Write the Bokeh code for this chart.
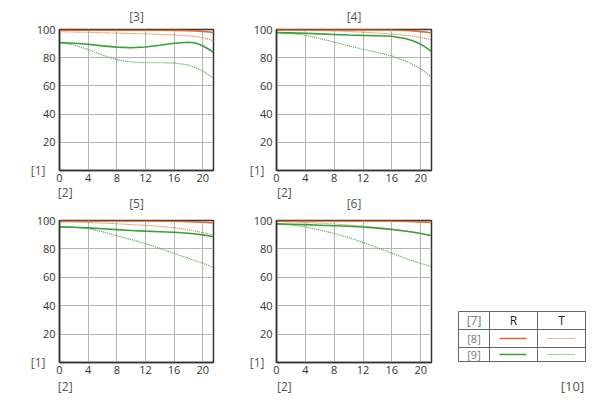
from bokeh.plotting import figure
from bokeh.models import Range1d, FixedTicker, LinearAxis, Title
from bokeh.layouts import column, row
from bokeh.embed import file_html
from bokeh.resources import INLINE
from bokeh.core.properties import value

# ---- data ----
X = [0, 2, 4, 6, 8, 10, 12, 14, 16, 18, 19, 20, 21, 21.5]

p1_r_sag = [99.5, 99.5, 99.5, 99.5, 99.5, 99.5, 99.5, 99.5, 99.4, 99.2, 99.0, 98.7, 98.2, 97.7]
p1_r_tan = [98.4, 98.2, 98.0, 97.7, 97.4, 97.1, 96.9, 96.6, 96.2, 95.5, 95.0, 94.2, 92.8, 91.8]
p1_g_sag = [90.7, 90.2, 89.5, 88.4, 87.5, 87.1, 87.6, 88.8, 90.3, 91.0, 90.4, 88.5, 85.5, 83.7]
p1_g_tan = [90.7, 89.0, 85.8, 81.8, 78.6, 77.0, 76.4, 76.4, 76.3, 74.8, 73.0, 70.5, 67.2, 65.5]

p2_r_sag = [99.7, 99.7, 99.7, 99.7, 99.7, 99.7, 99.7, 99.7, 99.6, 99.3, 99.0, 98.5, 98.0, 97.8]
p2_r_tan = [99.6, 99.6, 99.5, 99.3, 99.0, 98.6, 98.1, 97.5, 96.8, 95.8, 95.2, 94.4, 93.3, 92.7]
p2_g_sag = [97.8, 97.6, 97.3, 96.9, 96.5, 96.1, 95.8, 95.6, 95.2, 93.4, 91.8, 89.6, 86.3, 84.3]
p2_g_tan = [97.8, 97.1, 96.0, 93.5, 91.0, 88.4, 86.0, 83.7, 81.2, 77.5, 75.0, 72.2, 68.3, 66.4]

p3_r_sag = [99.6, 99.6, 99.6, 99.6, 99.6, 99.6, 99.6, 99.6, 99.5, 99.2, 99.0, 98.8, 98.5, 98.4]
p3_r_tan = [99.0, 98.9, 98.6, 98.2, 97.7, 97.1, 96.5, 95.8, 94.9, 93.5, 92.6, 91.5, 90.3, 89.6]
p3_g_sag = [95.5, 95.2, 94.8, 94.2, 93.6, 93.0, 92.5, 92.1, 91.7, 91.0, 90.5, 89.9, 89.1, 88.6]
p3_g_tan = [95.5, 95.2, 94.4, 92.0, 89.2, 86.6, 83.8, 80.5, 76.8, 73.4, 71.6, 69.8, 67.9, 67.1]

p4_r_sag = [99.7, 99.7, 99.7, 99.7, 99.7, 99.7, 99.7, 99.7, 99.6, 99.4, 99.2, 99.0, 98.8, 98.6]
p4_r_tan = [99.2, 99.0, 98.6, 98.1, 97.5, 96.8, 96.0, 95.1, 94.0, 92.6, 91.8, 90.9, 89.9, 89.4]
p4_g_sag = [97.6, 97.4, 97.1, 96.7, 96.3, 95.9, 95.4, 94.6, 93.7, 92.4, 91.7, 90.9, 89.8, 89.2]
p4_g_tan = [97.6, 96.9, 95.5, 93.3, 90.9, 88.0, 84.6, 80.8, 77.0, 73.2, 71.4, 69.8, 68.2, 67.6]

x_ticks = [0, 4, 8, 12, 16, 20]
y_ticks = [20, 40, 60, 80, 100]
panel_titles = ["[3]", "[4]", "[5]", "[6]"]
y_label = "[1]"
x_label = "[2]"
legend_head = ["[7]", "R", "T"]
legend_rows = ["[8]", "[9]"]
corner_label = "[10]"

RED = "#e2692a"
GREEN = "#35a235"
FONT = "Open Sans"
LABEL_COLOR = "#555555"
XMAX = 21.5
YMAX = 100


def style_axis(ax, size, color, standoff):
    ax.axis_line_color = None
    ax.major_tick_line_color = None
    ax.minor_tick_line_color = None
    ax.major_tick_out = 0
    ax.major_tick_in = 0
    ax.major_label_text_font = FONT
    ax.major_label_text_font_size = size
    ax.major_label_text_color = color
    ax.major_label_text_line_height = 1.0
    ax.major_label_standoff = standoff


def text_axis(p, side, pos, text, size, standoff):
    ax = LinearAxis(ticker=FixedTicker(ticks=[pos]),
                    major_label_overrides={pos: text})
    style_axis(ax, size, LABEL_COLOR, standoff)
    p.add_layout(ax, side)


def panel(width, height, bl, br, bt, bb, series, top_title, y1_standoff,
          x2_standoff, x2_shift, below_title=None):
    p = figure(width=width, height=height, output_backend="svg",
               toolbar_location=None, x_range=Range1d(0, XMAX),
               y_range=Range1d(0, YMAX), min_border_left=bl,
               min_border_right=br, min_border_top=bt, min_border_bottom=bb)
    p.outline_line_color = "#333333"
    p.outline_line_width = 1.5
    xa, ya = p.xaxis[0], p.yaxis[0]
    style_axis(xa, "11px", "#333333", 3)
    style_axis(ya, "11px", "#333333", 4)
    for ax in (xa, ya):
        ax.axis_line_color = "#333333"
        ax.axis_line_width = 1.5
    xa.ticker = FixedTicker(ticks=x_ticks)
    ya.ticker = FixedTicker(ticks=y_ticks)
    p.xgrid[0].ticker = FixedTicker(ticks=x_ticks)
    p.ygrid[0].ticker = FixedTicker(ticks=y_ticks)
    for g in (p.xgrid[0], p.ygrid[0]):
        g.grid_line_color = "#b4b4b4"
        g.grid_line_width = 1

    # "[1]" beside the zero level, "[2]" under the x tick labels
    text_axis(p, "left", 0, y_label, "12px", y1_standoff)
    text_axis(p, "below", x2_shift, x_label, "12px", x2_standoff)
    if below_title is not None:
        # the title of the panel underneath sits in this figure's lower border
        text_axis(p, "below", XMAX / 2, below_title, "12px", -9)
    if top_title is not None:
        p.title = Title(text=top_title, align="center", text_font=FONT,
                        text_font_size="12px", text_font_style="normal",
                        text_color=LABEL_COLOR, standoff=9,
                        text_line_height=1.0)

    r_sag, r_tan, g_sag, g_tan = series
    p.line(X, g_tan, line_color=GREEN, line_width=1.1, line_dash="1 1")
    p.line(X, r_tan, line_color=RED, line_width=1.1, line_dash="1 1")
    p.line(X, g_sag, line_color=GREEN, line_width=1.6)
    p.line(X, r_sag, line_color=RED, line_width=1.6)
    return p


f1 = panel(244, 214, 59, 31, 29, 42, (p1_r_sag, p1_r_tan, p1_g_sag, p1_g_tan),
           panel_titles[0], -12, -1, 0.8, below_title=panel_titles[2])
f2 = panel(202, 214, 32, 15, 29, 42, (p2_r_sag, p2_r_tan, p2_g_sag, p2_g_tan),
           panel_titles[1], -14, -1, 1.1, below_title=panel_titles[3])
f3 = panel(244, 184, 59, 31, 6, 36, (p3_r_sag, p3_r_tan, p3_g_sag, p3_g_tan),
           None, -12, 1, 0.8)
f4 = panel(202, 184, 32, 15, 6, 36, (p4_r_sag, p4_r_tan, p4_g_sag, p4_g_tan),
           None, -14, 1, 1.1)

# legend table; its frame lines up with the lower panels' frames (page y 220..362)
lg = figure(width=146, height=184, output_backend="svg", toolbar_location=None,
            x_range=Range1d(446, 592), y_range=Range1d(362, 220),
            y_axis_location=None, min_border=0, min_border_left=0,
            min_border_right=0, min_border_top=6, min_border_bottom=36)
lg.grid.visible = False
lg.outline_line_color = None
lga = lg.xaxis[0]
lga.ticker = FixedTicker(ticks=[572])
lga.major_label_overrides = {572: corner_label}
style_axis(lga, "13px", LABEL_COLOR, 14)

L, C1, C2, R = 458, 489, 537, 585
T, R1, R2, B = 311, 329, 347, 361
lg.segment(x0=[L, L, L, L, L, C1, C2, R], y0=[T, R1, R2, B, T, T, T, T],
           x1=[R, R, R, R, L, C1, C2, R], y1=[T, R1, R2, B, B, B, B, B],
           line_color="#666666", line_width=1)
lg.text(x=[(L + C1) / 2, (C1 + C2) / 2, (C2 + R) / 2], y=[(T + R1) / 2] * 3,
        text=legend_head, text_font=value(FONT), text_font_size="12px",
        text_color=["#777777", "#222222", "#222222"],
        text_align="center", text_baseline="middle")
lg.text(x=[(L + C1) / 2] * 2, y=[(R1 + R2) / 2, (R2 + B) / 2], text=legend_rows,
        text_font=value(FONT), text_font_size="11px", text_color="#777777",
        text_align="center", text_baseline="middle")
ya_, yb_ = (R1 + R2) / 2, (R2 + B) / 2
lg.segment(x0=[499], y0=[ya_], x1=[526], y1=[ya_], line_color=RED, line_width=1.6)
lg.segment(x0=[547], y0=[ya_], x1=[575], y1=[ya_], line_color=RED,
           line_width=1.1, line_dash="1 1")
lg.segment(x0=[499], y0=[yb_], x1=[526], y1=[yb_], line_color=GREEN, line_width=1.6)
lg.segment(x0=[547], y0=[yb_], x1=[575], y1=[yb_], line_color=GREEN,
           line_width=1.1, line_dash="1 1")

layout = column(row(f1, f2), row(f3, f4, lg))
open("out.html", "w").write(file_html(layout, INLINE))
